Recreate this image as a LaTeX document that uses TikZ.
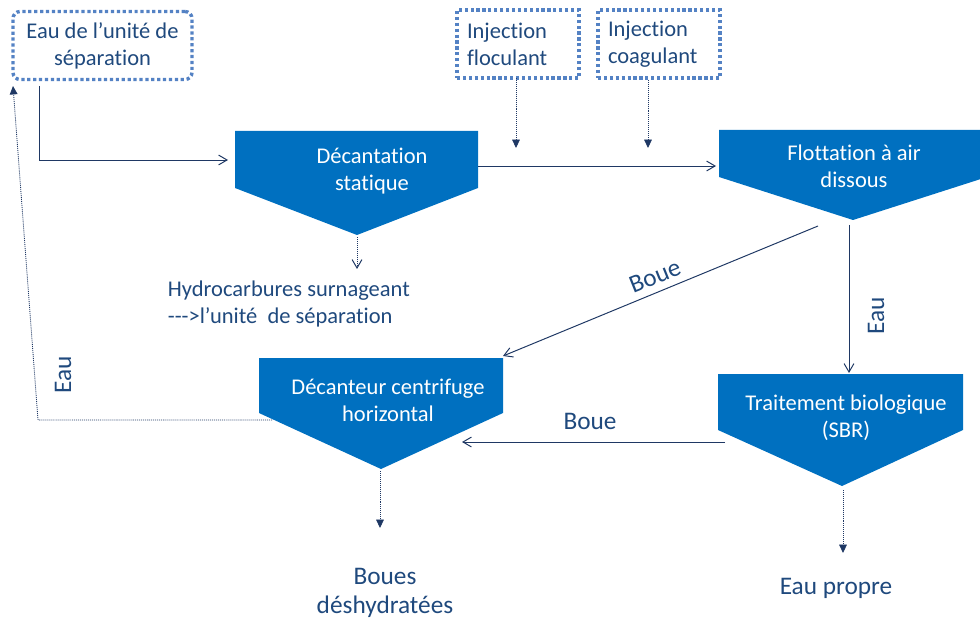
\documentclass[tikz,border=0pt]{standalone}
\usepackage{fontspec}
\setmainfont{Carlito}[Ligatures={NoCommon}]
\usetikzlibrary{arrows.meta}
\definecolor{procblue}{RGB}{0,112,192}
\definecolor{boxblue}{RGB}{84,130,196}
\definecolor{linenavy}{RGB}{31,56,100}
\definecolor{txtblue}{RGB}{31,73,125}

\begin{document}
\begin{tikzpicture}[x=0.25mm, y=-0.25mm,
  proctext/.style={text=white, align=center, font=\fontsize{16}{19.2}\selectfont},
  inbox/.style={draw=boxblue, line width=2.4pt, dash pattern=on 2.3pt off 1.9pt,
    text=txtblue, font=\fontsize{16}{19.2}\selectfont, minimum height=17mm},
  lbl/.style={text=txtblue, font=\fontsize{18}{21}\selectfont, align=center},
  flow/.style={draw=linenavy, line width=0.7pt, -{Straight Barb[length=6pt,width=7pt]}},
  dotflow/.style={draw=linenavy, line width=0.6pt, dash pattern=on 0.7pt off 0.7pt,
    -{Triangle[length=6pt,width=5.5pt]}}]
  \useasboundingbox (0,0) rectangle (980,625);

  % process blocks
  \fill[procblue] (235,131) -- (478,131) -- (478,188) -- (357,235) -- (235,188) -- cycle;
  \fill[procblue] (719,130) -- (987,130) -- (987,177) -- (853,220) -- (719,177) -- cycle;
  \fill[procblue] (259,358) -- (503,358) -- (503,413) -- (381,469) -- (259,413) -- cycle;
  \fill[procblue] (718,374) -- (963,374) -- (963,430) -- (842,486) -- (718,430) -- cycle;
  \node[proctext] (decst) at (372,171) {Décantation\\statique};
  \node[proctext] (flot) at (854,166) {Flottation à air\\dissous};
  \node[proctext] (dech) at (388,400) {Décanteur centrifuge\\horizontal};
  \node[proctext] (trait) at (846,418) {Traitement biologique\\(SBR)};

  % inputs
  \node[inbox, rounded corners=5pt, minimum width=44.75mm, align=center] (src) at (102.5,45.5)
    {Eau de l’unité de\\séparation};
  \node[inbox, minimum width=30.5mm, text width=25.5mm, align=left] (floc) at (518,44)
    {Injection\\floculant};
  \node[inbox, minimum width=30.5mm, text width=25.5mm, align=left] (coag) at (659,44)
    {Injection\\coagulant};

  % outputs
  \node[lbl, anchor=west, align=left, font=\fontsize{16}{19.2}\selectfont] (hydro) at (163,304)
    {Hydrocarbures surnageant\\{-}{-}{-}>l’unité~ de séparation};
  \node[lbl] (boues) at (385,593) {Boues\\déshydratées};
  \node[lbl] (propre) at (836,588) {Eau propre};

  % connection points
  \coordinate (src-out) at (39,86);
  \coordinate (decst-in) at (228,160);
  \coordinate (decst-out) at (478,166);
  \coordinate (flot-in) at (716,166);
  \coordinate (floc-out) at (516,78);
  \coordinate (floc-in) at (516,148);
  \coordinate (coag-out) at (648,80);
  \coordinate (coag-in) at (648,148);
  \coordinate (decst-tip) at (357,237);
  \coordinate (hydro-in) at (357,269);
  \coordinate (flot-a) at (818,226);
  \coordinate (dech-in) at (503,356);
  \coordinate (flot-b) at (849,225);
  \coordinate (trait-in) at (849,373);
  \coordinate (trait-out) at (725,442);
  \coordinate (dech-in2) at (462,442);
  \coordinate (dech-out) at (272,420);
  \coordinate (ret-a) at (38,420);
  \coordinate (src-in) at (13,86);
  \coordinate (dech-tip) at (380,471);
  \coordinate (boues-in) at (380,528);
  \coordinate (trait-tip) at (843,490);
  \coordinate (propre-in) at (843,553);

  % connectors
  \draw[flow] (src-out) |- (decst-in);
  \draw[flow] (decst-out) -- (flot-in);
  \draw[dotflow] (floc-out) -- (floc-in);
  \draw[dotflow] (coag-out) -- (coag-in);
  \draw[flow, dash pattern=on 0.7pt off 0.7pt] (decst-tip) -- (hydro-in);
  \draw[flow] (flot-a) -- (dech-in);
  \draw[flow] (flot-b) -- (trait-in);
  \draw[flow] (trait-out) -- (dech-in2);
  \draw[dotflow] (dech-out) -- (ret-a) -- (src-in);
  \draw[dotflow] (dech-tip) -- (boues-in);
  \draw[dotflow] (trait-tip) -- (propre-in);

  % flow labels
  \node[lbl, rotate=22] (boue1) at (655,276) {Boue};
  \node[lbl] (boue2) at (590,421) {Boue};
  \node[lbl, rotate=90] (eau1) at (876,316) {Eau};
  \node[lbl, rotate=90] (eau2) at (63,375) {Eau};
\end{tikzpicture}
\end{document}
